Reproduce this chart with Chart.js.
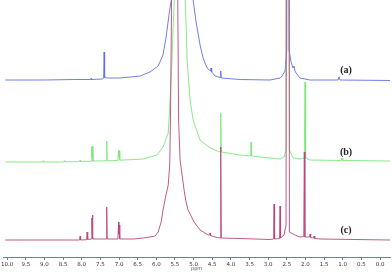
<!DOCTYPE html>
<html>
<head>
<meta charset="utf-8">
<script src="https://cdn.jsdelivr.net/npm/chart.js@4.4.1/dist/chart.umd.min.js"></script>
<style>
html,body{margin:0;padding:0;background:#fff;}
#wrap{width:392px;height:272px;position:relative;}
</style>
</head>
<body>
<div id="wrap"><canvas id="c" width="392" height="272"></canvas></div>
<script>
// ---- data (chemical shift in ppm, intensity above each trace's own baseline) ----
const tickLabels = ['10.0','9.5','9.0','8.5','8.0','7.5','7.0','6.5','6.0','5.5','5.0','4.5','4.0','3.5','3.0','2.5','2.0','1.5','1.0','0.5','0.0'];
const traceNames = ['(a)','(b)','(c)'];

const specA = [[10.05,0],[9.0,0],[8.2,0.5],[7.76,0.5],[7.748,1.8],[7.735,0.5],[7.45,1],[7.412,2],[7.399,28],[7.386,2.5],[7.3,2],[6.97,2],[6.43,4],[6.17,8],[5.95,14],[5.82,25],[5.74,42],[5.66,65],[5.60,80],[5.52,160],[5.31,1000],[5.09,160],[5.013,80],[4.933,58],[4.826,35],[4.745,22],[4.638,12],[4.545,9],[4.531,12],[4.515,8],[4.424,4],[4.29,2.5],[4.272,9],[4.255,2],[3.75,0.5],[2.95,0],[2.68,2],[2.627,4],[2.547,9],[2.50,30],[2.474,2000],[2.44,30],[2.386,18],[2.332,12],[2.306,14],[2.279,9],[2.252,7],[2.145,2],[1.877,0],[1.126,0],[1.099,3],[1.072,0],[-0.268,-0.5]];

const specB = [[10.05,0],[9.05,0],[9.035,1.2],[9.02,0],[8.49,0],[8.472,1.2],[8.455,0.2],[8.06,0.3],[8.043,2],[8.03,0.5],[7.75,0.8],[7.735,15],[7.727,5],[7.715,16],[7.70,1],[7.345,1.2],[7.33,21],[7.315,1.2],[7.03,1.5],[7.012,12],[7.004,5],[6.997,11],[6.98,1.8],[6.6,2.5],[6.35,3],[5.98,7],[5.82,15],[5.68,29],[5.63,62],[5.58,100],[5.555,130],[5.517,162],[5.47,300],[5.375,1000],[5.282,300],[5.228,162],[5.193,130],[5.174,102],[5.094,62],[5.013,42],[4.826,22],[4.558,14],[4.29,10],[4.272,49],[4.255,10],[3.753,7],[3.47,6],[3.458,20],[3.445,6],[3.217,5],[2.681,3],[2.574,5],[2.52,12],[2.474,2000],[2.43,12],[2.332,4],[2.145,3],[2.03,4],[2.011,80],[1.995,4],[1.877,2],[1.04,1.5],[1.019,4],[1.0,1.5],[-0.268,1]];

const specC = [[10.05,0],[8.06,0],[8.043,4],[8.03,0],[7.87,0.3],[7.855,8],[7.84,0.5],[7.74,1],[7.728,22],[7.72,8],[7.712,25],[7.70,1],[7.345,1],[7.33,33],[7.315,1],[7.03,1],[7.012,18],[7.004,6],[6.997,15],[6.98,1],[6.6,1],[6.35,2],[6.17,3],[6.03,4],[5.95,8],[5.87,18],[5.82,30],[5.74,45],[5.68,55],[5.64,75],[5.62,120],[5.59,240],[5.509,1000],[5.424,240],[5.402,120],[5.362,80],[5.308,65],[5.255,50],[5.201,38],[5.147,30],[5.067,24],[4.987,18],[4.826,10],[4.611,5],[4.57,5],[4.558,7],[4.545,4.5],[4.424,3],[4.29,2],[4.272,93],[4.255,2],[3.753,1.5],[2.949,0.5],[2.855,1],[2.842,36],[2.828,1],[2.695,1.5],[2.681,34],[2.667,2],[2.574,5],[2.52,15],[2.474,2000],[2.43,8],[2.279,5],[2.145,3],[2.045,3.5],[2.03,88],[2.015,3],[1.89,3],[1.877,6],[1.86,2.5],[1.785,2],[1.769,4],[1.75,1.5],[1.609,1],[-0.268,0]];

// ---- layout / style ----
const baseOffsets = [177, 95, 17];       // vertical stacking of the three traces
const colors = ['#5f70e6', '#7de67a', '#b8487a'];
const labelPos = {x: 0.91, dy: 10};      // label placement relative to each baseline

const specs = [specA, specB, specC];
const tickValues = tickLabels.map(Number);

function toPoints(spec, off){ return spec.map(p => ({x: p[0], y: p[1] + off})); }

// draw (c) first in list so it is painted on top
const order = [2, 1, 0];
const datasets = order.map(i => ({
  label: traceNames[i],
  data: toPoints(specs[i], baseOffsets[i]),
  borderColor: colors[i],
  borderWidth: 0.9,
  pointRadius: 0,
  tension: 0,
  fill: false
}));

const traceLabels = {
  id: 'traceLabels',
  afterDatasetsDraw(chart){
    const ctx = chart.ctx, xs = chart.scales.x, ys = chart.scales.y;
    ctx.save();
    ctx.font = 'bold 10px "Liberation Serif"';
    ctx.fillStyle = '#222';
    ctx.textAlign = 'center';
    ctx.textBaseline = 'middle';
    traceNames.forEach((t, i) => {
      ctx.fillText(t, xs.getPixelForValue(labelPos.x), ys.getPixelForValue(baseOffsets[i] + labelPos.dy));
    });
    ctx.restore();
  }
};

new Chart(document.getElementById('c'), {
  type: 'line',
  data: {datasets},
  options: {
    responsive: false,
    animation: false,
    events: [],
    layout: {padding: {left: 3, right: 2, top: 0, bottom: 0}},
    plugins: {legend: {display: false}, tooltip: {enabled: false}},
    scales: {
      x: {
        type: 'linear',
        reverse: true,
        min: -0.268,
        max: 10.107,
        afterBuildTicks: s => { s.ticks = tickValues.map(v => ({value: v})); },
        afterFit: s => { s.height = 15; },
        border: {display: true, color: '#6a8196', width: 1},
        grid: {drawOnChartArea: false, drawTicks: true, tickLength: 3, tickColor: '#6a8196'},
        ticks: {
          padding: 1,
          autoSkip: false,
          maxRotation: 0,
          color: '#333',
          font: {family: 'DejaVu Sans', size: 5.5},
          callback: (v) => { const k = tickValues.indexOf(v); return k >= 0 ? tickLabels[k] : ''; }
        },
        title: {display: true, text: 'ppm', color: '#555', font: {family: 'DejaVu Sans', size: 5}, padding: {top: 0, bottom: 0}}
      },
      y: {display: false, min: 0, max: 257}
    }
  },
  plugins: [traceLabels]
});
</script>
</body>
</html>
